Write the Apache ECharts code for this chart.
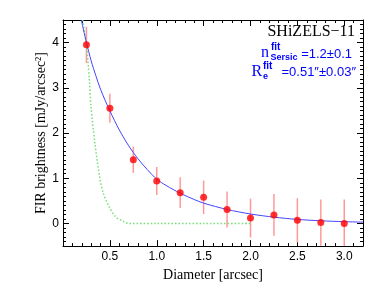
<!DOCTYPE html>
<html>
<head>
<meta charset="utf-8">
<script src="https://cdn.jsdelivr.net/npm/echarts@6/dist/echarts.min.js"></script>
<style>
html,body{margin:0;padding:0;background:#fff;}
#chart{width:382px;height:287px;}
</style>
</head>
<body>
<div id="chart"></div>
<script>
// ---- data ----
const pointX = [0.25, 0.5, 0.75, 1.0, 1.25, 1.5, 1.75, 2.0, 2.25, 2.5, 2.75, 3.0];
const pointY = [3.95, 2.55, 1.41, 0.94, 0.68, 0.58, 0.31, 0.12, 0.19, 0.07, 0.02, 0.00];
const pointErr = [0.40, 0.32, 0.29, 0.31, 0.34, 0.37, 0.40, 0.43, 0.46, 0.49, 0.51, 0.53];

const fitX = [0.195, 0.25, 0.3, 0.35, 0.4, 0.45, 0.5, 0.6, 0.7, 0.8, 0.9, 1.0, 1.1, 1.25, 1.4, 1.5, 1.75, 2.0, 2.25, 2.5, 2.75, 3.0, 3.2];
const fitY = [4.5, 4.0, 3.6, 3.27, 2.97, 2.72, 2.49, 2.07, 1.72, 1.43, 1.19, 0.98, 0.84, 0.67, 0.53, 0.45, 0.31, 0.21, 0.14, 0.09, 0.06, 0.04, 0.03];

const beamX = [0.21, 0.25, 0.28, 0.30, 0.34, 0.39, 0.43, 0.49, 0.56, 0.65, 0.70, 1.0, 1.5, 2.0];
const beamY = [4.5, 3.95, 3.2, 2.55, 1.78, 1.04, 0.67, 0.38, 0.15, 0.04, 0.0, 0.0, 0.0, 0.0];

const xMajor = [0.5, 1.0, 1.5, 2.0, 2.5, 3.0];
const yMajor = [0, 1, 2, 3, 4];

const titleText = 'SHiZELS\u221211';
const nValue = '=1.2\u00b10.1';
const rValue = '=0.51\u2033\u00b10.03\u2033';

// ---- chart ----
const chart = echarts.init(document.getElementById('chart'), null, {renderer: 'canvas'});
const serif = '"Liberation Serif", serif';
const sans = '"Liberation Sans", "DejaVu Sans", sans-serif';
const X0 = 0, X1 = 3.2, Y0 = -0.5, Y1 = 4.5;

function majorAxis(pos, isX, withLabels) {
  const vals = isX ? xMajor : yMajor;
  return {
    type: 'value', position: pos,
    min: isX ? X0 : Y0, max: isX ? X1 : Y1,
    axisLine: {show: true, onZero: false, lineStyle: {color: '#000', width: 1}},
    axisTick: {show: true, inside: true, length: 6, customValues: vals, lineStyle: {color: '#000', width: 1}},
    axisLabel: {show: withLabels, customValues: vals, color: '#000', fontFamily: sans, fontSize: 12,
      margin: isX ? 5 : 4,
      formatter: v => isX ? Number(v).toFixed(1) : String(Math.round(v))},
    splitLine: {show: false}, minorTick: {show: false}
  };
}
function minorAxis(pos, isX) {
  return {
    type: 'value', position: pos,
    min: isX ? X0 : Y0, max: isX ? X1 : Y1, interval: 0.1,
    axisLine: {show: false, onZero: false},
    axisTick: {show: true, inside: true, length: 3, lineStyle: {color: '#000', width: 1}},
    axisLabel: {show: false}, splitLine: {show: false}
  };
}

const xMain = majorAxis('bottom', true, true);
xMain.name = 'Diameter [arcsec]';
xMain.nameLocation = 'middle';
xMain.nameGap = 19;
xMain.nameTextStyle = {fontFamily: serif, fontSize: 14, color: '#000'};

const yMain = majorAxis('left', false, true);
yMain.name = 'FIR brightness [mJy/arcsec\u00b2]';
yMain.nameLocation = 'middle';
yMain.nameGap = 15;
yMain.nameMoveOverlap = false;
yMain.nameTextStyle = {fontFamily: serif, fontSize: 14, color: '#000'};

const option = {
  backgroundColor: '#fff',
  animation: false,
  grid: {left: 63, right: 19, top: 20, bottom: 40},
  xAxis: [xMain, minorAxis('bottom', true), majorAxis('top', true, false), minorAxis('top', true)],
  yAxis: [yMain, minorAxis('left', false), majorAxis('right', false, false), minorAxis('right', false)],
  series: [
    {
      type: 'line', name: 'beam', xAxisIndex: 0, yAxisIndex: 0,
      data: beamX.map((x, i) => [x, beamY[i]]),
      showSymbol: false, symbol: 'none', smooth: 0.3, clip: true,
      lineStyle: {color: '#77dd77', width: 1.5, type: [1.5, 2]}
    },
    {
      type: 'line', name: 'fit', xAxisIndex: 0, yAxisIndex: 0,
      data: fitX.map((x, i) => [x, fitY[i]]),
      showSymbol: false, symbol: 'none', smooth: 0.3, clip: true,
      lineStyle: {color: '#4444ff', width: 1}
    },
    {
      type: 'custom', name: 'err', xAxisIndex: 0, yAxisIndex: 0, clip: true,
      data: pointX.map((x, i) => [x, pointY[i] - pointErr[i], pointY[i] + pointErr[i]]),
      encode: {x: 0, y: [1, 2]},
      renderItem: function (params, api) {
        const x = api.value(0);
        const p1 = api.coord([x, api.value(1)]);
        const p2 = api.coord([x, api.value(2)]);
        return {type: 'line', shape: {x1: p1[0], y1: p1[1], x2: p2[0], y2: p2[1]},
          style: {stroke: '#ff9999', lineWidth: 1.5}};
      }
    },
    {
      type: 'scatter', name: 'data', xAxisIndex: 0, yAxisIndex: 0,
      data: pointX.map((x, i) => [x, pointY[i]]),
      symbol: 'circle', symbolSize: 7,
      itemStyle: {color: '#ff0000'}, z: 5
    }
  ],
  graphic: [
    {type: 'text', x: 355, y: 32, style: {text: titleText, fontFamily: serif, fontSize: 16, fill: '#000', align: 'right', verticalAlign: 'middle'}},
    {type: 'text', x: 261, y: 53.2, style: {text: 'n', fontFamily: serif, fontSize: 16, fill: '#0000ff', align: 'left', verticalAlign: 'middle'}},
    {type: 'text', x: 271, y: 47.5, style: {text: 'fit', fontFamily: sans, fontWeight: 'bold', fontSize: 10, fill: '#0000ff', align: 'left', verticalAlign: 'middle'}},
    {type: 'text', x: 270.5, y: 57.5, style: {text: 'Sersic', fontFamily: sans, fontWeight: 'bold', fontSize: 9, fill: '#0000ff', align: 'left', verticalAlign: 'middle'}},
    {type: 'text', x: 352, y: 54, style: {text: nValue, fontFamily: sans, fontSize: 13, fill: '#0000ff', align: 'right', verticalAlign: 'middle'}},
    {type: 'text', x: 251.5, y: 71.6, style: {text: 'R', fontFamily: serif, fontSize: 16, fill: '#0000ff', align: 'left', verticalAlign: 'middle'}},
    {type: 'text', x: 263, y: 66, style: {text: 'fit', fontFamily: sans, fontWeight: 'bold', fontSize: 10, fill: '#0000ff', align: 'left', verticalAlign: 'middle'}},
    {type: 'text', x: 263, y: 76.5, style: {text: 'e', fontFamily: sans, fontWeight: 'bold', fontSize: 9, fill: '#0000ff', align: 'left', verticalAlign: 'middle'}},
    {type: 'text', x: 356, y: 72, style: {text: rValue, fontFamily: sans, fontSize: 13, fill: '#0000ff', align: 'right', verticalAlign: 'middle'}}
  ]
};
chart.setOption(option);
</script>
</body>
</html>
